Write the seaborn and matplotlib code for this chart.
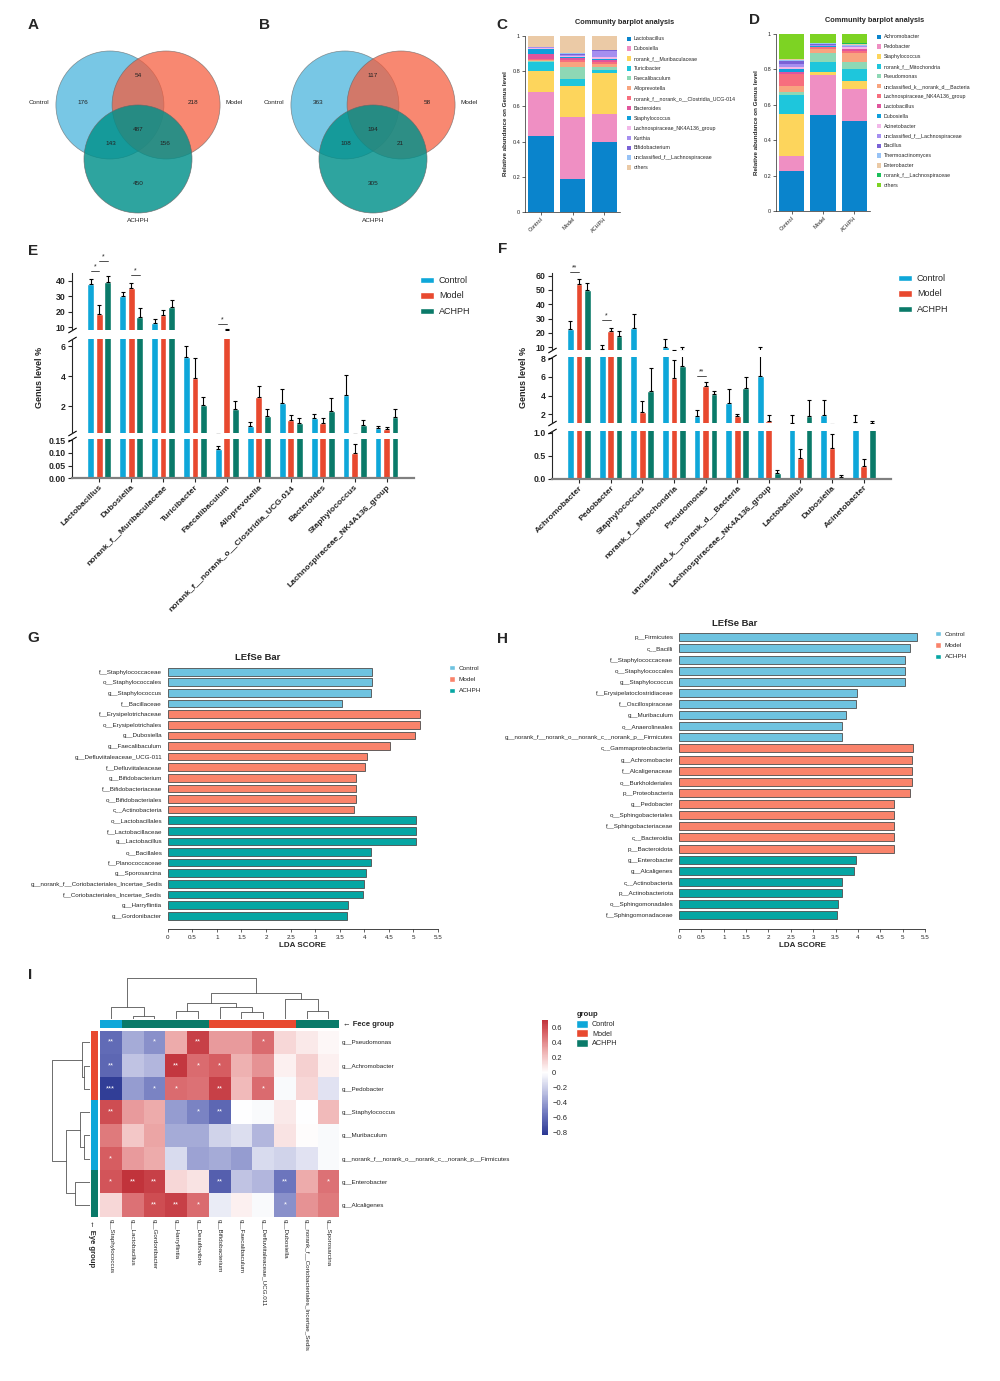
import numpy as np
import pandas as pd
import matplotlib
matplotlib.use('Agg')
import matplotlib.pyplot as plt
from matplotlib.patches import Circle, Patch
from matplotlib.colors import LinearSegmentedColormap, ListedColormap
import seaborn as sns

sns.set_theme(style='ticks')
plt.rcParams['font.family'] = ['Liberation Sans', 'DejaVu Sans']
plt.rcParams['axes.linewidth'] = 0.8

# ---------------- data ----------------
groups = ['Control', 'Model', 'ACHPH']
grp_colors = ['#0ea7d9', '#e8492f', '#0a7a69']

# Venn counts: C only, C&M, M only, all three, C&A, M&A, A only
venn_a = [176, 54, 218, 487, 143, 156, 450]
venn_b = [363, 117, 58, 194, 108, 21, 305]
venn_colors = ['#3fb0da', '#f65a3a', '#00908a']

# community barplots (relative abundance)
samples = ['Control', 'Model', 'ACHPH']
comm_pal = ['#0a84cc', '#ef8fc3', '#fdd55c', '#1ec6dc', '#8ed8b5', '#f8a47f', '#f76e7e',
            '#e0559c', '#0f9fdb', '#f2b8e9', '#a68ff0', '#7a62d6', '#98c3f6', '#ebcaa6']
c_taxa = ['Lactobacillus', 'Dubosiella', 'norank_f__Muribaculaceae', 'Turicibacter', 'Faecalibaculum',
          'Alloprevotella', 'norank_f__norank_o__Clostridia_UCG-014', 'Bacteroides', 'Staphylococcus',
          'Lachnospiraceae_NK4A136_group', 'Kurthia', 'Bifidobacterium', 'unclassified_f__Lachnospiraceae',
          'others']
c_control = [0.43, 0.25, 0.12, 0.055, 0.003, 0.004, 0.01, 0.025, 0.03, 0.005, 0.003, 0.002, 0.003, 0.06]
c_model = [0.185, 0.357, 0.175, 0.038, 0.068, 0.03, 0.012, 0.01, 0.005, 0.005, 0.005, 0.005, 0.008, 0.097]
c_achph = [0.395, 0.162, 0.23, 0.019, 0.019, 0.015, 0.013, 0.011, 0.008, 0.011, 0.032, 0.004, 0.003, 0.078]

d_taxa = ['Achromobacter', 'Pedobacter', 'Staphylococcus', 'norank_f__Mitochondria', 'Pseudomonas',
          'unclassified_k__norank_d__Bacteria', 'Lachnospiraceae_NK4A136_group', 'Lactobacillus',
          'Dubosiella', 'Acinetobacter', 'unclassified_f__Lachnospiraceae', 'Bacillus',
          'Thermoactinomyces', 'Enterobacter', 'norank_f__Lachnospiraceae', 'others']
d_control = [0.225, 0.087, 0.237, 0.106, 0.019, 0.032, 0.07, 0.007, 0.019, 0.011, 0.017, 0.017, 0.008, 0.001, 0.005, 0.139]
d_model = [0.545, 0.221, 0.021, 0.056, 0.051, 0.019, 0.012, 0.003, 0.004, 0.003, 0.005, 0.004, 0.003, 0.002, 0.002, 0.049]
d_achph = [0.506, 0.183, 0.045, 0.066, 0.043, 0.051, 0.008, 0.011, 0.004, 0.008, 0.006, 0.003, 0.003, 0.008, 0.002, 0.053]
d_colors = comm_pal + ['#1bbf5a', '#7dd323']

# genus level % (mean and SEM)
e_genus = ['Lactobacillus', 'Dubosiella', 'norank_f__Muribaculaceae', 'Turicibacter', 'Faecalibaculum',
           'Alloprevotella', 'norank_f__norank_o__Clostridia_UCG-014', 'Bacteroides', 'Staphylococcus',
           'Lachnospiraceae_NK4A136_group']
e_control = [37.9, 30.1, 12.6, 5.29, 0.116, 0.67, 2.2, 1.18, 2.71, 0.56]
e_control_se = [3.0, 2.8, 2.5, 0.71, 0.012, 0.29, 0.93, 0.31, 1.38, 0.13]
e_model = [18.6, 35.5, 17.7, 3.89, 8.2, 2.58, 1.07, 0.84, 0.101, 0.44]
e_model_se = [5.7, 3.2, 3.7, 1.35, 0.5, 0.75, 0.35, 0.36, 0.034, 0.18]
e_achph = [39.1, 16.4, 23.1, 2.04, 1.78, 1.33, 0.84, 1.64, 0.76, 1.24]
e_achph_se = [4.1, 5.8, 4.3, 0.54, 0.55, 0.47, 0.36, 0.87, 0.31, 0.53]
# (genus index, group a, group b, y, label, segment)
e_sig = [(0, 0, 1, 46.4, '*', 0), (0, 1, 2, 52.8, '*', 0), (1, 1, 2, 43.6, '*', 0), (4, 0, 1, 12.2, '*', 0)]

f_genus = ['Achromobacter', 'Pedobacter', 'Staphylococcus', 'norank_f__Mitochondria', 'Pseudomonas',
           'unclassified_k__norank_d__Bacteria', 'Lachnospiraceae_NK4A136_group', 'Lactobacillus',
           'Dubosiella', 'Acinetobacter']
f_control = [22.6, 8.6, 23.3, 10.5, 1.86, 3.2, 6.14, 1.07, 1.93, 1.21]
f_control_se = [5.8, 3.3, 10.0, 5.1, 0.57, 1.5, 3.86, 0.86, 1.57, 0.75]
f_model = [54.2, 21.6, 2.2, 5.9, 5.07, 1.79, 1.25, 0.457, 0.674, 0.275]
f_model_se = [3.2, 1.9, 1.23, 1.9, 0.36, 0.21, 0.64, 0.18, 0.3, 0.145]
f_achph = [50.0, 17.9, 4.5, 7.2, 4.2, 4.86, 0.116, 1.79, 0.036, 1.08]
f_achph_se = [5.1, 3.3, 2.43, 2.8, 0.3, 1.1, 0.08, 1.71, 0.034, 0.25]
f_sig = [(0, 0, 1, 62.3, '**', 0), (1, 0, 1, 29.1, '*', 0), (4, 0, 1, 6.14, '**', 1)]

# LEfSe
lefse_colors = ['#6ec3e0', '#f9836b', '#06a6a3']
g_taxa = ['f__Staphylococcaceae', 'o__Staphylococcales', 'g__Staphylococcus', 'f__Bacillaceae',
          'f__Erysipelotrichaceae', 'o__Erysipelotrichales', 'g__Dubosiella', 'g__Faecalibaculum',
          'g__Defluviitaleaceae_UCG-011', 'f__Defluviitaleaceae', 'g__Bifidobacterium',
          'f__Bifidobacteriaceae', 'o__Bifidobacteriales', 'c__Actinobacteria', 'o__Lactobacillales',
          'f__Lactobacillaceae', 'g__Lactobacillus', 'o__Bacillales', 'f__Planococcaceae',
          'g__Sporosarcina', 'g__norank_f__Coriobacteriales_Incertae_Sedis',
          'f__Coriobacteriales_Incertae_Sedis', 'g__Harryflintia', 'g__Gordonibacter']
g_scores = [4.16, 4.16, 4.13, 3.54, 5.14, 5.14, 5.03, 4.52, 4.06, 4.02, 3.83, 3.83, 3.83, 3.79,
            5.06, 5.06, 5.06, 4.13, 4.13, 4.04, 4.0, 3.98, 3.66, 3.65]
g_group = ['Control'] * 4 + ['Model'] * 10 + ['ACHPH'] * 10

h_taxa = ['p__Firmicutes', 'c__Bacilli', 'f__Staphylococcaceae', 'o__Staphylococcales',
          'g__Staphylococcus', 'f__Erysipelatoclostridiaceae', 'f__Oscillospiraceae', 'g__Muribaculum',
          'o__Anaerolineales', 'g__norank_f__norank_o__norank_c__norank_p__Firmicutes',
          'c__Gammaproteobacteria', 'g__Achromobacter', 'f__Alcaligenaceae', 'o__Burkholderiales',
          'p__Proteobacteria', 'g__Pedobacter', 'o__Sphingobacteriales', 'f__Sphingobacteriaceae',
          'c__Bacteroidia', 'p__Bacteroidota', 'g__Enterobacter', 'g__Alcaligenes', 'c__Actinobacteria',
          'p__Actinobacteriota', 'o__Sphingomonadales', 'f__Sphingomonadaceae']
h_scores = [5.31, 5.16, 5.05, 5.05, 5.05, 3.99, 3.95, 3.73, 3.64, 3.64,
            5.24, 5.2, 5.2, 5.2, 5.17, 4.81, 4.81, 4.81, 4.8, 4.8,
            3.96, 3.91, 3.64, 3.64, 3.55, 3.53]
h_group = ['Control'] * 10 + ['Model'] * 10 + ['ACHPH'] * 6

# correlation heatmap
hm_rows = ['g__Pseudomonas', 'g__Achromobacter', 'g__Pedobacter', 'g__Staphylococcus', 'g__Muribaculum',
           'g__norank_f__norank_o__norank_c__norank_p__Firmicutes', 'g__Enterobacter', 'g__Alcaligenes']
hm_cols = ['g__Staphylococcus', 'g__Lactobacillus', 'g__Gordonibacter', 'g__Harryflintia',
           'g__Desulfovibrio', 'g__Bifidobacterium', 'g__Faecalibaculum', 'g__Defluviitaleaceae_UCG.011',
           'g__Dubosiella', 'g__norank_f__Coriobacteriales_Incertae_Sedis', 'g__Sporosarcina']
hm_vals = [
    [-0.60, -0.35, -0.45, 0.30, 0.65, 0.35, 0.35, 0.50, 0.15, 0.08, 0.03],
    [-0.62, -0.25, -0.30, 0.68, 0.50, 0.55, 0.28, 0.38, 0.05, 0.17, 0.05],
    [-0.80, -0.40, -0.50, 0.50, 0.48, 0.65, 0.25, 0.50, -0.02, 0.15, -0.12],
    [0.60, 0.35, 0.30, -0.40, -0.50, -0.62, 0.00, -0.02, 0.08, 0.00, 0.25],
    [0.45, 0.20, 0.32, -0.35, -0.35, -0.18, -0.14, -0.30, 0.10, 0.01, -0.02],
    [0.55, 0.35, 0.30, -0.15, -0.38, -0.35, -0.40, -0.15, -0.18, -0.12, -0.02],
    [0.58, 0.72, 0.65, 0.15, 0.10, -0.65, -0.25, -0.30, -0.55, 0.30, 0.48],
    [0.15, 0.48, 0.60, 0.65, 0.50, -0.08, 0.05, -0.02, -0.45, 0.38, 0.45],
]
hm_stars = [
    ['**', '', '*', '', '**', '', '', '*', '', '', ''],
    ['**', '', '', '**', '*', '*', '', '', '', '', ''],
    ['***', '', '*', '*', '', '**', '', '*', '', '', ''],
    ['**', '', '', '', '*', '**', '', '', '', '', ''],
    ['', '', '', '', '', '', '', '', '', '', ''],
    ['*', '', '', '', '', '', '', '', '', '', ''],
    ['*', '**', '**', '', '', '**', '', '', '**', '', '*'],
    ['', '', '**', '**', '*', '', '', '', '*', '', ''],
]
eye_group = ['Model', 'Model', 'Model', 'Control', 'Control', 'Control', 'ACHPH', 'ACHPH']
fece_group = ['Control', 'ACHPH', 'ACHPH', 'ACHPH', 'ACHPH', 'Model', 'Model', 'Model', 'Model', 'ACHPH', 'ACHPH']
# dendrogram merges (left, right, height); new clusters numbered after the leaves
col_links = [(1, 2, 10), (0, 11, 37), (3, 4, 25), (6, 7, 20), (5, 14, 35), (13, 15, 47),
             (9, 10, 23), (8, 17, 62), (16, 18, 78), (12, 19, 123)]
row_links = [(1, 2, 16), (0, 8, 22), (4, 5, 17), (3, 10, 28), (6, 7, 45), (11, 12, 73), (9, 13, 115)]

# ---------------- helpers ----------------
W, H = 1000, 1381
fig = plt.figure(figsize=(10, 13.81), dpi=100)


def box(x0, y0, x1, y1):
    return [x0 / W, 1 - y1 / H, (x1 - x0) / W, (y1 - y0) / H]


def fxy(x, y):
    return (x / W, 1 - y / H)


def letter(x, y, s):
    fig.text(x / W, 1 - y / H, s, fontsize=11, fontweight='bold', ha='center', va='center')


def venn3(rect, counts):
    ax = fig.add_axes(rect)
    centres = [(-0.52, 0), (0.52, 0), (0, -1.0)]
    for (cx, cy), col, a in zip(centres, venn_colors, [0.7, 0.72, 0.82]):
        ax.add_patch(Circle((cx, cy), 1, facecolor=col, alpha=a, edgecolor='#666666', lw=0.5))
    spots = [(-1.02, 0.04), (0, 0.54), (1.01, 0.04), (0, -0.46), (-0.5, -0.72), (0.5, -0.72), (0, -1.46)]
    for (x, y), n in zip(spots, counts):
        ax.text(x, y, str(n), ha='center', va='center', fontsize=4.6, color='#222222')
    ax.text(-1.64, 0.04, 'Control', ha='right', va='center', fontsize=4.6)
    ax.text(1.62, 0.04, 'Model', ha='left', va='center', fontsize=4.6)
    ax.text(0, -2.13, 'ACHPH', ha='center', va='center', fontsize=4.6)
    ax.set_xlim(-2.185, 2.185)
    ax.set_ylim(-2.315, 1.296)
    ax.set_aspect('equal')
    ax.axis('off')


def community(rect, taxa, table, colors, leg_xy):
    ax = fig.add_axes(rect)
    bottom = np.zeros(len(samples))
    for k, (t, c) in enumerate(zip(taxa, colors)):
        vals = np.array([col[k] for col in table])
        ax.bar(samples, vals, bottom=bottom, color=c, width=0.8, label=t, linewidth=0)
        bottom += vals
    ax.set_xlim(-0.5, 2.5)
    ax.set_ylim(0, 1)
    ax.set_yticks([0, 0.2, 0.4, 0.6, 0.8, 1])
    ax.set_yticklabels(['0', '0.2', '0.4', '0.6', '0.8', '1'])
    ax.tick_params(axis='both', labelsize=4, length=2, width=0.5, pad=1.5)
    plt.setp(ax.get_xticklabels(), rotation=45, ha='right', rotation_mode='anchor')
    for s in ['top', 'right']:
        ax.spines[s].set_visible(False)
    ax.spines['left'].set_linewidth(0.5)
    ax.spines['bottom'].set_linewidth(0.5)
    ax.set_ylabel('Relative abundance on Genus level', fontsize=4.5, fontweight='bold', labelpad=3)
    ax.set_title('Community barplot analysis', fontsize=5.3, fontweight='bold', pad=9, x=1.05)
    ax.legend(loc='upper left', bbox_to_anchor=fxy(*leg_xy), bbox_transform=fig.transFigure,
              frameon=False, fontsize=3.8, handlelength=0.85, handleheight=0.85, labelspacing=0.93,
              handletextpad=0.5, borderpad=0, borderaxespad=0)


def broken_bars(genus, means, errs, segs, x0, x1, sigs, fmt_last):
    df = pd.DataFrame({
        'genus': genus * 3,
        'group': [g for g in groups for _ in genus],
        'value': [v for m in means for v in m],
    })
    axes = []
    for k, (lo, hi, ticks, ytop, ybot) in enumerate(segs):
        ax = fig.add_axes(box(x0, ytop, x1, ybot))
        sns.barplot(data=df, x='genus', y='value', hue='group', order=genus, hue_order=groups,
                    palette=grp_colors, saturation=1, width=0.8, gap=0.2, errorbar=None,
                    legend=False, ax=ax)
        centres = {}
        bar_sets = list(ax.containers)[:len(groups)]
        for h, cont in enumerate(bar_sets):
            for j, bar in enumerate(cont.patches):
                centres[(j, h)] = bar.get_x() + bar.get_width() / 2
        for (j, h), xc in centres.items():
            ax.errorbar(xc, means[h][j], yerr=[[0], [errs[h][j]]], fmt='none', ecolor='black',
                        elinewidth=0.8, capsize=1.4, capthick=0.8)
        ax.set_ylim(lo, hi)
        ax.set_yticks(ticks)
        ax.set_xlabel('')
        ax.set_ylabel('')
        ax.tick_params(axis='y', labelsize=6.3, length=3, width=0.8, pad=1.5)
        for lab in ax.get_yticklabels():
            lab.set_fontweight('bold')
        ax.spines['top'].set_visible(False)
        ax.spines['right'].set_visible(False)
        mk = dict(marker=[(-1, -0.6), (1, 0.6)], markersize=6, mew=0.8, color='black',
                  transform=ax.transAxes, clip_on=False, linestyle='none')
        if k < len(segs) - 1:
            ax.spines['bottom'].set_visible(False)
            ax.tick_params(axis='x', bottom=False, labelbottom=False)
            ax.plot([0], [0], **mk)
        if k > 0:
            ax.plot([0], [1], **mk)
        for (j, a, b, y, lab, s) in sigs:
            if s == k:
                xa, xb = centres[(j, a)], centres[(j, b)]
                ax.plot([xa, xb], [y, y], color='#333333', lw=0.6, clip_on=False)
                ax.annotate(lab, ((xa + xb) / 2, y), xytext=(0, 0.5), textcoords='offset points',
                            ha='center', va='bottom', fontsize=5, annotation_clip=False)
        axes.append(ax)
    ax = axes[-1]
    ax.set_yticklabels([fmt_last % t for t in segs[-1][2]])
    for lab in ax.get_yticklabels():
        lab.set_fontweight('bold')
    ax.spines['bottom'].set_color('#808080')
    ax.spines['bottom'].set_linewidth(1.6)
    ax.tick_params(axis='x', length=3, width=0.8, labelsize=6.1, pad=1)
    plt.setp(ax.get_xticklabels(), rotation=45, ha='right', rotation_mode='anchor', fontweight='bold')
    return axes


def grp_legend(xy, fs=6.5, hl=1.5, hh=0.7, ls=0.72, colors=grp_colors):
    fig.legend(handles=[Patch(facecolor=c, label=g) for g, c in zip(groups, colors)],
               loc='upper left', bbox_to_anchor=fxy(*xy), frameon=False, fontsize=fs,
               handlelength=hl, handleheight=hh, labelspacing=ls, handletextpad=0.6,
               borderpad=0, borderaxespad=0)


def lefse(rect, taxa, scores, grp, title_xy, leg_xy):
    df = pd.DataFrame({'taxon': taxa, 'score': scores, 'group': grp})
    ax = fig.add_axes(rect)
    sns.barplot(data=df, x='score', y='taxon', hue='group', order=taxa, hue_order=groups,
                dodge=False, palette=lefse_colors, saturation=1, width=0.72,
                edgecolor='#4d4d4d', linewidth=0.6, legend=False, ax=ax)
    ax.set_xlim(0, 5.5)
    ticks = np.arange(0, 5.51, 0.5)
    ax.set_xticks(ticks)
    ax.set_xticklabels(['%g' % t for t in ticks])
    ax.tick_params(axis='x', labelsize=4.5, length=2.5, width=0.5, pad=1.5)
    ax.tick_params(axis='y', labelsize=4.5, length=0, pad=4)
    ax.set_ylabel('')
    ax.set_xlabel('LDA SCORE', fontsize=5.8, fontweight='bold', labelpad=1.5)
    for s in ['top', 'right', 'left']:
        ax.spines[s].set_visible(False)
    ax.spines['bottom'].set_position(('outward', 6))
    ax.spines['bottom'].set_linewidth(0.6)
    fig.text(*fxy(*title_xy), 'LEfSe Bar', fontsize=6.8, fontweight='bold', ha='center', va='center')
    grp_legend(leg_xy, fs=4.6, hl=0.9, hh=0.9, ls=0.85, colors=lefse_colors)


def dendro(rect, links, n, top):
    ax = fig.add_axes(rect)
    pos = {i: i + 0.5 for i in range(n)}
    hgt = {i: 0.0 for i in range(n)}
    for k, (a, b, h) in enumerate(links):
        xs = [pos[a], pos[a], pos[b], pos[b]]
        ys = [hgt[a], h, h, hgt[b]]
        if top:
            ax.plot(xs, ys, color='#555555', lw=0.6)
        else:
            ax.plot(ys, xs, color='#555555', lw=0.6)
        pos[n + k] = (pos[a] + pos[b]) / 2
        hgt[n + k] = h
    hmax = max(l[2] for l in links)
    if top:
        ax.set_xlim(0, n)
        ax.set_ylim(0, hmax * 1.01)
    else:
        ax.set_ylim(n, 0)
        ax.set_xlim(hmax * 1.01, 0)
    ax.axis('off')


# ---------------- A, B: Venn ----------------
letter(33, 25, 'A')
letter(265, 25, 'B')
venn3(box(20, 35, 256, 230), venn_a)
venn3(box(255, 35, 491, 230), venn_b)

# ---------------- C, D: community barplots ----------------
letter(502, 25, 'C')
letter(755, 20, 'D')
community(box(525, 36, 620, 212), c_taxa, [c_control, c_model, c_achph], comm_pal, (627, 36.5))
community(box(776, 34, 870, 211), d_taxa, [d_control, d_model, d_achph], d_colors, (877, 34.5))

# ---------------- E, F: genus level bars ----------------
letter(33, 251, 'E')
letter(503, 249, 'F')
e_segs = [(8.3, 45.1, [10, 20, 30, 40], 272.7, 330),
          (0.22, 6.5, [2, 4, 6], 338.7, 432.7),
          (0, 0.155, [0, 0.05, 0.10, 0.15], 439, 478.3)]
broken_bars(e_genus, [e_control, e_model, e_achph], [e_control_se, e_model_se, e_achph_se],
            e_segs, 71.7, 414, e_sig, '%.2f')
fig.text(*fxy(39, 377), 'Genus level %', rotation=90, ha='center', va='center', fontsize=6.5, fontweight='bold')
grp_legend((420, 276))

f_segs = [(8.1, 61.6, [10, 20, 30, 40, 50, 60], 273.3, 350),
          (1.04, 8.1, [2, 4, 6, 8], 357.3, 423.3),
          (0, 1.04, [0, 0.5, 1.0], 430.7, 478.7)]
broken_bars(f_genus, [f_control, f_model, f_achph], [f_control_se, f_model_se, f_achph_se],
            f_segs, 551.7, 891, f_sig, '%.1f')
fig.text(*fxy(524, 377), 'Genus level %', rotation=90, ha='center', va='center', fontsize=6.5, fontweight='bold')
grp_legend((898, 274))

# ---------------- G, H: LEfSe ----------------
letter(33, 638, 'G')
letter(503, 639, 'H')
lefse(box(167.7, 666.4, 438, 921), g_taxa, g_scores, g_group, (258, 658), (449, 665))
lefse(box(679, 631.7, 925, 920.9), h_taxa, h_scores, h_group, (735, 623), (935, 631))

# ---------------- I: correlation heatmap ----------------
letter(30, 975, 'I')
cmap = LinearSegmentedColormap.from_list(
    'rb', ['#2b3893', '#6d76bd', '#b9bde0', '#ffffff', '#efb3b3', '#d65c60', '#ae0f1b'])
hm = pd.DataFrame(hm_vals, index=hm_rows, columns=hm_cols)
hax = fig.add_axes(box(100, 1030.7, 339.3, 1216.7))
sns.heatmap(hm, ax=hax, cmap=cmap, vmin=-0.83, vmax=0.7, center=0, cbar=False,
            annot=np.array(hm_stars), fmt='', annot_kws=dict(color='white', fontsize=5.5),
            xticklabels=hm_cols, yticklabels=hm_rows)
hax.yaxis.tick_right()
hax.tick_params(length=0, labelsize=4.5, pad=2)
plt.setp(hax.get_yticklabels(), rotation=0, ha='left')
plt.setp(hax.get_xticklabels(), rotation=270, ha='center', va='top')

col_codes = np.array([[groups.index(g) for g in fece_group]])
row_codes = np.array([[groups.index(g)] for g in eye_group])
grp_cmap = ListedColormap(grp_colors)
cax_top = fig.add_axes(box(100, 1020, 339.3, 1027.7))
sns.heatmap(col_codes, ax=cax_top, cmap=grp_cmap, vmin=-0.5, vmax=2.5, cbar=False,
            xticklabels=False, yticklabels=False)
cax_left = fig.add_axes(box(91, 1030.7, 98.3, 1216.7))
sns.heatmap(row_codes, ax=cax_left, cmap=grp_cmap, vmin=-0.5, vmax=2.5, cbar=False,
            xticklabels=False, yticklabels=False)

dendro(box(100, 978, 339.3, 1019), col_links, len(hm_cols), True)
dendro(box(51.5, 1030.7, 89.5, 1216.7), row_links, len(hm_rows), False)

fig.text(*fxy(343, 1024), '\u2190 Fece group', fontsize=5.5, fontweight='bold', va='center', ha='left')
fig.text(*fxy(92, 1220), '\u2190 Eye group', fontsize=5.5, fontweight='bold', va='top', ha='center',
         rotation=270)

cbar_ax = fig.add_axes(box(542, 1020, 548, 1135))
cb = fig.colorbar(hax.collections[0], cax=cbar_ax)
cb_ticks = [-0.8, -0.6, -0.4, -0.2, 0, 0.2, 0.4, 0.6]
cb.set_ticks(cb_ticks)
cb.set_ticklabels(['%g' % t if t >= 0 else '\u2212%g' % -t for t in cb_ticks])
cb.outline.set_visible(False)
cbar_ax.tick_params(length=0, labelsize=5.5, pad=3)

fig.text(*fxy(577, 1015), 'group', fontsize=5.5, fontweight='bold', va='center')
grp_legend((576, 1020), fs=5.2, hl=1.6, hh=1.3, ls=0.15)

fig.savefig('out.png', dpi=100)
